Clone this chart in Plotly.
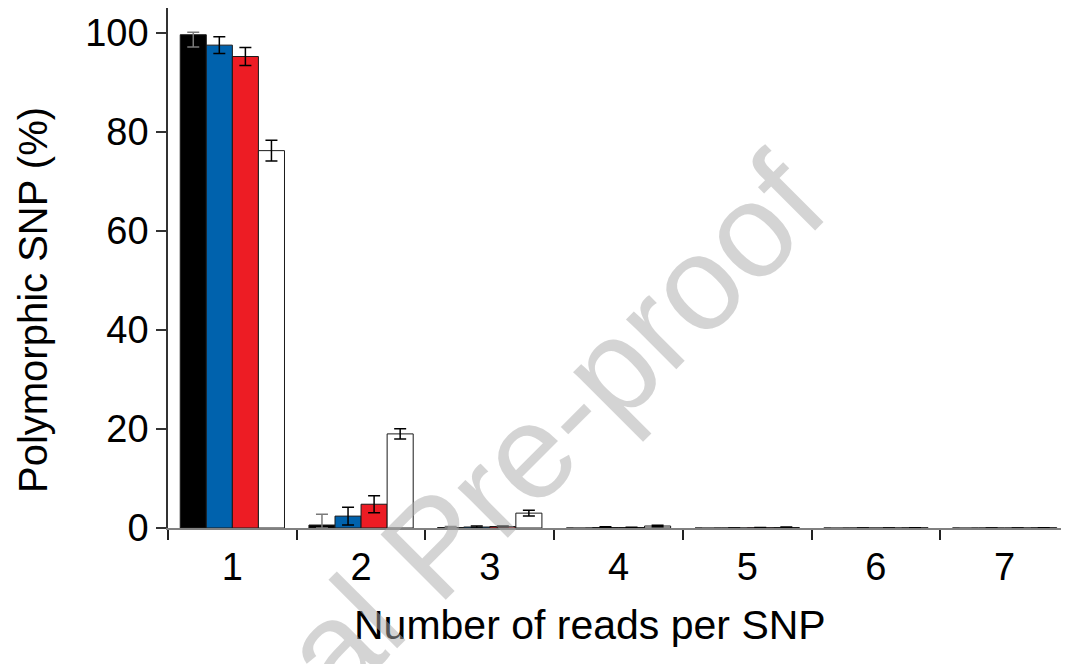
import plotly.graph_objects as go

categories = ["1", "2", "3", "4", "5", "6", "7"]
series_names = ["Series 1", "Series 2", "Series 3", "Series 4"]
series_colors = ["#000000", "#0062AD", "#ED1C24", "#FFFFFF"]
error_colors = ["#7a7a7a", "#000000", "#000000", "#000000"]

black_vals = [99.6, 0.6, 0.1, 0.0, 0.0, 0.0, 0.0]
blue_vals = [97.5, 2.4, 0.2, 0.1, 0.0, 0.0, 0.0]
red_vals = [95.2, 4.8, 0.3, 0.1, 0.05, 0.0, 0.0]
white_vals = [76.2, 19.0, 3.0, 0.4, 0.1, 0.05, 0.05]

black_err_up = [0.5, 2.2, 0.2, 0.0, 0.0, 0.0, 0.0]
black_err_down = [2.5, 0.6, 0.1, 0.0, 0.0, 0.0, 0.0]
blue_err = [1.7, 1.8, 0.2, 0.15, 0.0, 0.0, 0.0]
red_err = [1.8, 1.7, 0.1, 0.05, 0.05, 0.0, 0.0]
white_err = [2.1, 1.05, 0.6, 0.15, 0.08, 0.0, 0.0]

y_ticks = [0, 20, 40, 60, 80, 100]

values = [black_vals, blue_vals, red_vals, white_vals]
err_up = [black_err_up, blue_err, red_err, white_err]
err_down = [black_err_down, blue_err, red_err, white_err]

FONT = "Liberation Sans, Arial, sans-serif"

fig = go.Figure()
for name, vals, eu, ed, col, ecol in zip(series_names, values, err_up, err_down,
                                         series_colors, error_colors):
    fig.add_trace(go.Bar(
        x=categories, y=vals, name=name,
        marker=dict(color=col, line=dict(color="#1a1a1a", width=1)),
        error_y=dict(type="data", symmetric=False, array=eu, arrayminus=ed,
                     color=ecol, thickness=1.5, width=6),
        showlegend=False,
    ))

fig.update_layout(
    width=1061, height=656,
    margin=dict(l=160, r=0, t=0, b=136),
    paper_bgcolor="white", plot_bgcolor="white",
    barmode="group", bargap=0.19, bargroupgap=0,
    font=dict(family=FONT, color="#000000"),
    xaxis=dict(
        type="category", showline=True, linecolor="#808080", linewidth=2,
        ticks="outside", tickson="boundaries", ticklen=10, tickcolor="#222222",
        tickwidth=1.5, tickfont=dict(size=38, family=FONT), showgrid=False,
        zeroline=False, ticklabelstandoff=4,
    ),
    yaxis=dict(
        range=[0, 105], tickvals=y_ticks, showline=True, linecolor="#333333",
        linewidth=1.5, ticks="outside", ticklen=10, tickcolor="#333333",
        tickwidth=1.5, tickfont=dict(size=38, family=FONT), showgrid=False,
        zeroline=False, ticklabelstandoff=0,
    ),
    annotations=[
        dict(text="Polymorphic SNP (%)", xref="paper", yref="paper",
             x=-0.1498, y=0.4385, textangle=-90, showarrow=False,
             font=dict(size=40, family=FONT, color="#000000"),
             xanchor="center", yanchor="middle"),
        dict(text="Number of reads per SNP", xref="paper", yref="paper",
             x=0.4684, y=-0.1865, showarrow=False,
             font=dict(size=41, family=FONT, color="#000000"),
             xanchor="center", yanchor="middle"),
        dict(text="Journal Pre-proof", xref="paper", yref="paper",
             x=0.2952, y=-0.0327, textangle=-45,
             showarrow=False,
             font=dict(size=134, family=FONT, color="rgba(170,170,170,0.5)"),
             xanchor="center", yanchor="middle"),
    ],
)

fig.write_html("out.html")
